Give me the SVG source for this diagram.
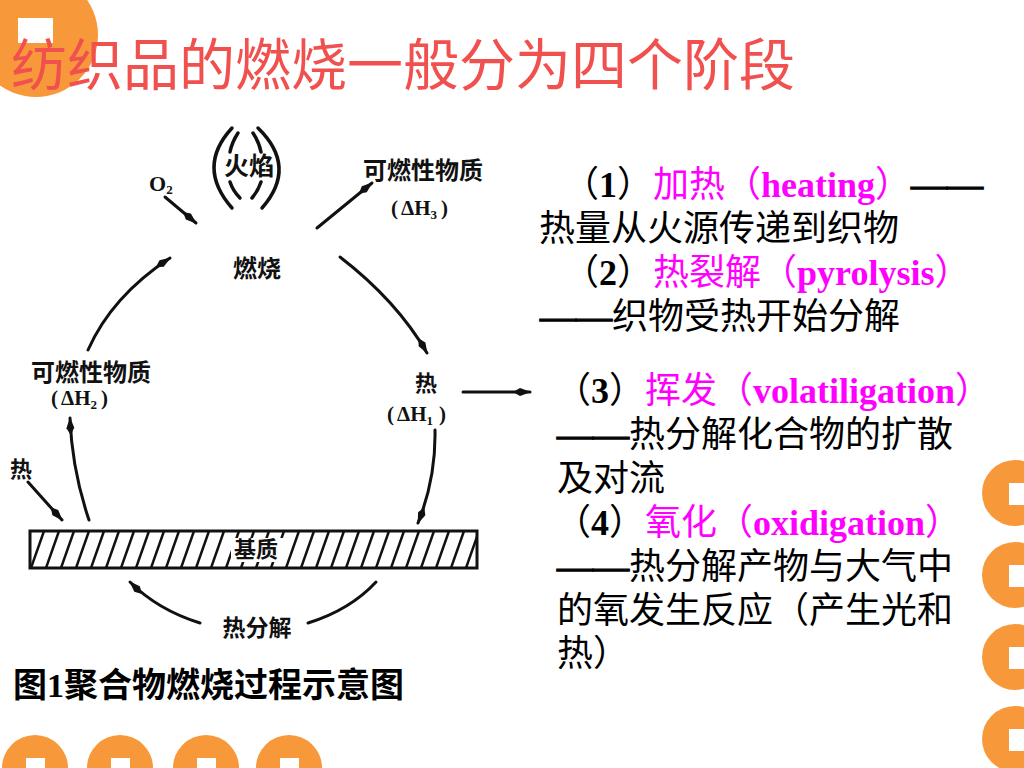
<svg xmlns="http://www.w3.org/2000/svg" width="1024" height="768" viewBox="0 0 1024 768">
<style>
.deco{fill:#F7993B}
.notch{fill:#ffffff}
.title{font-family:"Noto Sans CJK SC","Noto Sans CJK TC",sans-serif;font-size:56px;fill:#F0504E}
.lbl{font-family:"Liberation Serif","Noto Sans CJK SC",serif;fill:#111;font-weight:bold}
.body{font-family:"Liberation Serif","Noto Sans CJK SC",serif;font-size:36px;fill:#000}
.cap{font-family:"Liberation Serif","Noto Sans CJK SC",serif;font-size:34px;fill:#000;font-weight:bold}
.mag{fill:#FF00FF}
.b{font-weight:bold}
.dash{stroke:#000;stroke-width:1.3}
.ln{fill:none;stroke:#111;stroke-width:3;stroke-linecap:round}
.br{fill:none;stroke:#111;stroke-width:3.5;stroke-linecap:round}
</style>
<defs>
<marker id="sp" viewBox="0 0 18 9" refX="17" refY="4.5" markerWidth="18" markerHeight="9" markerUnits="userSpaceOnUse" orient="auto">
<path d="M0,4.5 L7,0.6 L18,4.5 L7,8.4 Z" fill="#111"/>
</marker>
<pattern id="hatch" patternUnits="userSpaceOnUse" x="30" y="531" width="15" height="37">
<line x1="1" y1="37" x2="14" y2="0" stroke="#111" stroke-width="2.5"/>
</pattern>
</defs>
<rect width="1024" height="768" fill="#ffffff"/>

<g id="decorations">
<circle class="deco" cx="36" cy="35" r="62"/>
<rect class="notch" x="18" y="18" width="35" height="25"/>
<circle class="deco" cx="1015" cy="493" r="33"/>
<rect class="notch" x="1009" y="483" width="15" height="22"/>
<circle class="deco" cx="1015" cy="575" r="33"/>
<rect class="notch" x="1009" y="565" width="15" height="22"/>
<circle class="deco" cx="1015" cy="657" r="33"/>
<rect class="notch" x="1009" y="647" width="15" height="22"/>
<circle class="deco" cx="1015" cy="739" r="33"/>
<rect class="notch" x="1009" y="729" width="15" height="22"/>
<circle class="deco" cx="35" cy="768" r="33"/>
<rect class="notch" x="26" y="758" width="19" height="10"/>
<circle class="deco" cx="120" cy="768" r="33"/>
<rect class="notch" x="111" y="758" width="19" height="10"/>
<circle class="deco" cx="206" cy="768" r="33"/>
<rect class="notch" x="197" y="758" width="19" height="10"/>
<circle class="deco" cx="289" cy="768" r="33"/>
<rect class="notch" x="280" y="758" width="19" height="10"/>
</g>

<g id="title">
<text class="title" x="11" y="85">纺织品的燃烧一般分为四个阶段</text>
</g>

<g id="connectors">
<path class="ln" d="M165 197 L196 223" marker-end="url(#sp)"/>
<path class="ln" d="M317 228 L372 183" marker-end="url(#sp)"/>
<path class="ln" d="M88 350 Q112 296 170 258" marker-end="url(#sp)"/>
<path class="ln" d="M340 257 Q397 301 427 353" marker-end="url(#sp)"/>
<path class="ln" d="M463 392 L530 392" marker-end="url(#sp)"/>
<path class="ln" d="M435 430 Q436 478 418 523" marker-end="url(#sp)"/>
<path class="ln" d="M89 520 Q72 470 70 418" marker-end="url(#sp)"/>
<path class="ln" d="M28 482 L62 520" marker-end="url(#sp)"/>
<path class="ln" d="M200 623 Q158 610 130 582" marker-end="url(#sp)"/>
<path class="ln" d="M308 623 Q350 610 376 582"/>
</g>

<g id="node-flame">
<path class="br" d="M232 128 Q196 167 232 208"/>
<path class="br" d="M258 128 Q298 167 262 208"/>
<path class="br" d="M238 133 Q232 142 230 152"/>
<path class="br" d="M230 182 Q233 191 240 198"/>
<path class="br" d="M253 133 Q259 142 261 152"/>
<path class="br" d="M261 182 Q258 191 252 198"/>
<text class="lbl" x="249" y="175" font-size="25" text-anchor="middle">火焰</text>
</g>

<g id="node-o2">
<text class="lbl" x="149" y="191" font-size="22">O<tspan font-size="13" dy="3">2</tspan></text>
</g>

<g id="node-combustion">
<text class="lbl" x="257" y="277" font-size="24" text-anchor="middle">燃烧</text>
</g>

<g id="node-fuel3">
<text class="lbl" x="423" y="179" font-size="24" text-anchor="middle">可燃性物质</text>
<text class="lbl" x="391" y="215" font-size="21">(<tspan dx="3">ΔH</tspan><tspan font-size="13" dy="4">3</tspan><tspan dx="4" dy="-4">)</tspan></text>
</g>

<g id="node-fuel2">
<text class="lbl" x="91" y="381" font-size="24" text-anchor="middle">可燃性物质</text>
<text class="lbl" x="51" y="405" font-size="21">(<tspan dx="3">ΔH</tspan><tspan font-size="13" dy="4">2</tspan><tspan dx="4" dy="-4">)</tspan></text>
</g>

<g id="node-heat1">
<text class="lbl" x="426" y="391" font-size="22" text-anchor="middle">热</text>
<text class="lbl" x="387" y="421" font-size="21">(<tspan dx="3">ΔH</tspan><tspan font-size="13" dy="4">1</tspan><tspan dx="6" dy="-4">)</tspan></text>
</g>

<g id="node-heat-in">
<text class="lbl" x="21" y="477" font-size="22" text-anchor="middle">热</text>
</g>

<g id="node-substrate">
<rect x="30" y="531" width="447" height="37" fill="url(#hatch)" stroke="#111" stroke-width="3"/>
<rect x="231" y="538" width="52" height="24" fill="#ffffff"/>
<text class="lbl" x="256" y="557" font-size="22" text-anchor="middle">基质</text>
</g>

<g id="node-pyrolysis">
<text class="lbl" x="257" y="636" font-size="23" text-anchor="middle">热分解</text>
</g>

<g id="caption">
<text class="cap" x="13" y="697">图1聚合物燃烧过程示意图</text>
</g>

<g id="stages">
<text class="body" x="563" y="197">（<tspan class="b">1</tspan>）<tspan class="mag">加热（<tspan class="b">heating</tspan>）</tspan><tspan class="dash">——</tspan></text>
<text class="body" x="539" y="241">热量从火源传递到织物</text>
<text class="body" x="563" y="285">（<tspan class="b">2</tspan>）<tspan class="mag">热裂解（<tspan class="b">pyrolysis</tspan>）</tspan></text>
<text class="body" x="540" y="329"><tspan class="dash">——</tspan>织物受热开始分解</text>
<text class="body" x="555" y="403">（<tspan class="b">3</tspan>）<tspan class="mag">挥发（<tspan class="b">volatiligation</tspan>）</tspan></text>
<text class="body" x="557" y="447"><tspan class="dash">——</tspan>热分解化合物的扩散</text>
<text class="body" x="557" y="491">及对流</text>
<text class="body" x="555" y="535">（<tspan class="b">4</tspan>）<tspan class="mag">氧化（<tspan class="b">oxidigation</tspan>）</tspan></text>
<text class="body" x="557" y="579"><tspan class="dash">——</tspan>热分解产物与大气中</text>
<text class="body" x="557" y="623">的氧发生反应（产生光和</text>
<text class="body" x="557" y="666">热）</text>
</g>
</svg>
